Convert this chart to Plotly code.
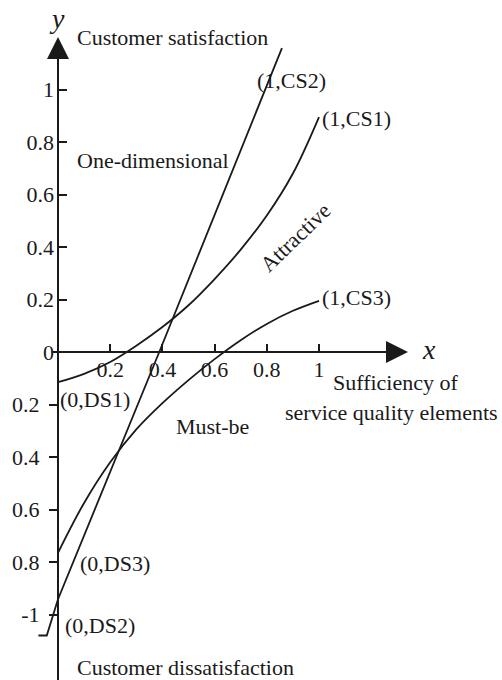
import plotly.graph_objects as go

# ---- data ----
one_dim_x = [-0.075, -0.043, 0.0, 0.388, 0.858]
one_dim_y = [-1.08, -1.08, -0.942, 0.0, 1.158]

attractive_x = [0.0, 0.1, 0.2, 0.3, 0.4, 0.5, 0.6, 0.7, 0.8, 0.9, 1.0]
attractive_y = [-0.115, -0.083, -0.038, 0.024, 0.095, 0.178, 0.278, 0.39, 0.52, 0.68, 0.895]

mustbe_x = [0.0, 0.1, 0.2, 0.3, 0.4, 0.5, 0.6, 0.7, 0.8, 0.9, 1.0]
mustbe_y = [-0.765, -0.575, -0.42, -0.295, -0.195, -0.107, -0.027, 0.045, 0.107, 0.157, 0.195]

x_tickvals = [0.2, 0.4, 0.6, 0.8, 1.0]
x_ticktext = ["0.2", "0.4", "0.6", "0.8", "1"]
y_pos_tickvals = [0.0, 0.2, 0.4, 0.6, 0.8, 1.0]
y_pos_ticktext = ["0", "0.2", "0.4", "0.6", "0.8", "1"]
y_neg_tickvals = [-0.2, -0.4, -0.6, -0.8, -1.0]
y_neg_ticktext = ["0.2", "0.4", "0.6", "0.8", "-1"]

X_RANGE = [-0.2222, 1.7011]
Y_RANGE = [-1.2495, 1.3410]

FONT = "Liberation Serif, Times New Roman, serif"
INK = "#1a1a1a"

fig = go.Figure()
for xs, ys, shp in [(one_dim_x, one_dim_y, "linear"),
                    (attractive_x, attractive_y, "spline"),
                    (mustbe_x, mustbe_y, "spline")]:
    fig.add_trace(go.Scatter(x=xs, y=ys, mode="lines",
                             line=dict(color=INK, width=1.8, shape=shp, smoothing=1.0),
                             showlegend=False, hoverinfo="skip"))

y0_frac = (0 - Y_RANGE[0]) / (Y_RANGE[1] - Y_RANGE[0])
x0_frac = (0 - X_RANGE[0]) / (X_RANGE[1] - X_RANGE[0])

axfont = dict(family=FONT, size=22, color=INK)

fig.update_layout(
    width=502, height=680,
    margin=dict(l=0, r=0, t=0, b=0),
    paper_bgcolor="white", plot_bgcolor="white",
    showlegend=False,
    xaxis=dict(range=X_RANGE, domain=[0, 1], anchor="free", position=y0_frac,
               showgrid=False, zeroline=False, showline=False,
               ticks="inside", ticklen=8, tickwidth=2, tickcolor=INK,
               tickvals=x_tickvals, ticktext=x_ticktext, tickfont=axfont,
               ticklabelstandoff=2, automargin=False, fixedrange=True),
    yaxis=dict(range=Y_RANGE, domain=[0, 1], anchor="free", position=x0_frac,
               showgrid=False, zeroline=False, showline=False,
               ticks="inside", ticklen=8, tickwidth=2, tickcolor=INK,
               tickvals=y_pos_tickvals, ticktext=y_pos_ticktext, tickfont=axfont,
               ticklabelstandoff=4, automargin=False, fixedrange=True),
    yaxis2=dict(range=Y_RANGE, domain=[0, 1], anchor="free", position=x0_frac,
                overlaying="y", side="left",
                showgrid=False, zeroline=False, showline=False,
                ticks="outside", ticklen=9, tickwidth=2, tickcolor=INK,
                tickvals=y_neg_tickvals, ticktext=y_neg_ticktext, tickfont=axfont,
                ticklabelstandoff=5, automargin=False, fixedrange=True),
)

# invisible trace to activate yaxis2
fig.add_trace(go.Scatter(x=[None], y=[None], yaxis="y2", showlegend=False))

# axis lines with arrowheads
fig.add_annotation(x=1.341, y=0, ax=-0.03, ay=0, axref="x", ayref="y", xref="x", yref="y",
                   text="", showarrow=True, arrowhead=2, arrowsize=2.2, arrowwidth=2,
                   arrowcolor=INK, standoff=0, startstandoff=0)
fig.add_annotation(x=0, y=1.2, ax=0, ay=Y_RANGE[0] - 0.05, axref="x", ayref="y", xref="x", yref="y",
                   text="", showarrow=True, arrowhead=2, arrowsize=2.2, arrowwidth=2,
                   arrowcolor=INK, standoff=0, startstandoff=0)

def label(txt, x, y, xanchor="left", size=22, italic=False, angle=0):
    fig.add_annotation(x=x, y=y, xref="x", yref="y", text=txt, showarrow=False,
                       xanchor=xanchor, yanchor="middle", textangle=angle,
                       font=dict(family=FONT, size=size, color=INK,
                                 style="italic" if italic else "normal"))

label("y", -0.004, 1.272, xanchor="center", size=28, italic=True)
label("x", 1.421, 0.008, xanchor="center", size=28, italic=True)
label("Customer satisfaction", 0.065, 1.2)
label("(1,CS2)", 0.755, 1.036)
label("(1,CS1)", 1.004, 0.891)
label("One-dimensional", 0.065, 0.731)
label("Attractive", 0.908, 0.438, xanchor="center", angle=-44)
label("(1,CS3)", 1.004, 0.206)
label("Sufficiency of", 1.047, -0.118)
label("service quality elements", 0.862, -0.229)
label("(0,DS1)", 0.0, -0.179)
label("Must-be", 0.444, -0.282)
label("(0,DS3)", 0.077, -0.804)
label("(0,DS2)", 0.02, -1.04)
label("Customer dissatisfaction", 0.065, -1.2)

fig.write_html("out.html", config={"displayModeBar": False},
               post_script="document.body.style.margin='0';document.body.style.overflow='hidden';")
